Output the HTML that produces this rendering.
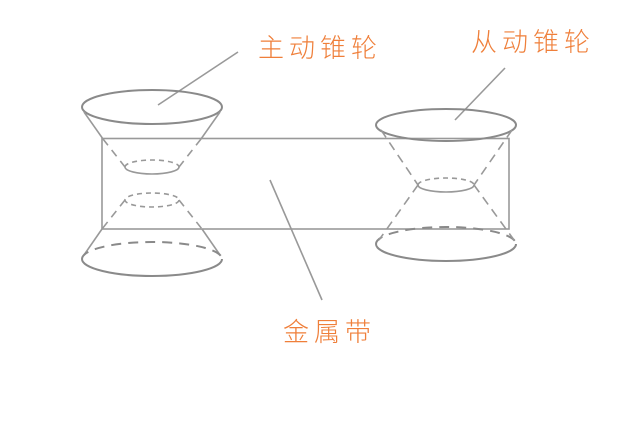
<!DOCTYPE html>
<html><head><meta charset="utf-8"><style>
html,body{margin:0;padding:0;background:#fff}
svg{display:block}
text{font-family:"Liberation Sans","Noto Sans CJK SC",sans-serif;fill:#ef7f3a;font-size:26px;letter-spacing:5px;font-weight:300}
</style></head><body>
<svg width="640" height="427" viewBox="0 0 640 427" xmlns="http://www.w3.org/2000/svg">
<g fill="none" stroke="#999" stroke-width="1.6">
<rect x="102" y="138.5" width="407" height="90.5"/>
<line x1="238" y1="52" x2="158" y2="105"/>
<line x1="505" y1="68" x2="455" y2="120"/>
<line x1="270" y1="180" x2="322" y2="300"/>
</g>
<g fill="none" stroke="#8a8a8a" stroke-width="2">
<ellipse cx="152" cy="107" rx="70" ry="17"/>
</g>
<g fill="none" stroke="#999" stroke-width="1.6">
<line x1="84" y1="112" x2="103" y2="139"/>
<line x1="220" y1="112" x2="201" y2="139"/>
<line x1="103" y1="139" x2="125" y2="167" stroke-dasharray="8,6"/>
<line x1="201" y1="139" x2="179" y2="167" stroke-dasharray="8,6"/>
<path d="M125,167 A27,7 0 0 0 179,167" />
<path d="M125,167 A27,7 0 0 1 179,167" stroke-dasharray="5,4"/>
<ellipse cx="152" cy="200" rx="27" ry="7" stroke-dasharray="5,4"/>
<line x1="125" y1="200" x2="102" y2="229" stroke-dasharray="8,6"/>
<line x1="179" y1="200" x2="202" y2="229" stroke-dasharray="8,6"/>
<line x1="102" y1="229" x2="84" y2="255"/>
<line x1="202" y1="229" x2="220" y2="255"/>
</g>
<g fill="none" stroke="#8a8a8a" stroke-width="2">
<path d="M82,259 A70,17 0 0 0 222,259"/>
<path d="M82,259 A70,17 0 0 1 222,259" stroke-dasharray="10,7"/>
<ellipse cx="446" cy="125" rx="70" ry="16"/>
<path d="M376,244 A70,17 0 0 0 516,244"/>
<path d="M376,244 A70,17 0 0 1 516,244" stroke-dasharray="10,7"/>
</g>
<g fill="none" stroke="#999" stroke-width="1.6">
<path d="M418,185 A28,7 0 0 0 474,185"/>
<path d="M418,185 A28,7 0 0 1 474,185" stroke-dasharray="5,4"/>
<line x1="381" y1="130" x2="418" y2="185" stroke-dasharray="9,6"/>
<line x1="512" y1="130" x2="474" y2="185" stroke-dasharray="9,6"/>
<line x1="418" y1="185" x2="379" y2="240" stroke-dasharray="9,6"/>
<line x1="474" y1="185" x2="514" y2="240" stroke-dasharray="9,6"/>
</g>
<text x="258" y="57">主动锥轮</text>
<text x="471" y="51">从动锥轮</text>
<text x="283" y="341">金属带</text>
</svg>
</body></html>
